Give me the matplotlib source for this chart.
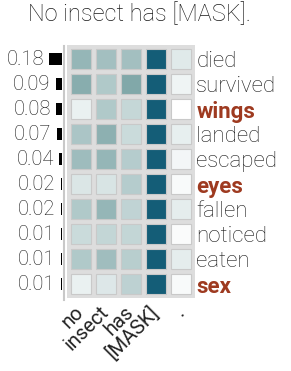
import matplotlib
matplotlib.use("Agg")
import matplotlib.pyplot as plt
from matplotlib.colors import LinearSegmentedColormap
from matplotlib.lines import Line2D

plt.rcParams["font.family"] = ["Roboto", "DejaVu Sans"]

title = "No insect has [MASK]."
tokens = ["no", "insect", "has", "[MASK]", "."]
candidates = ["died", "survived", "wings", "landed", "escaped",
              "eyes", "fallen", "noticed", "eaten", "sex"]
probs = [0.18, 0.09, 0.08, 0.07, 0.04, 0.02, 0.02, 0.01, 0.01, 0.01]
highlight = ["wings", "eyes", "sex"]

# attention-ish weight per candidate row, one value per token column
attn = [
    [0.40, 0.35, 0.35, 1.0, 0.12],
    [0.45, 0.30, 0.48, 1.0, 0.06],
    [0.08, 0.30, 0.22, 1.0, 0.00],
    [0.32, 0.43, 0.20, 1.0, 0.09],
    [0.37, 0.40, 0.28, 1.0, 0.05],
    [0.14, 0.15, 0.28, 1.0, 0.03],
    [0.30, 0.40, 0.24, 1.0, 0.10],
    [0.20, 0.23, 0.23, 1.0, 0.02],
    [0.30, 0.36, 0.27, 1.0, 0.10],
    [0.08, 0.13, 0.25, 1.0, 0.03],
]

cmap = LinearSegmentedColormap.from_list("teal", ["#ffffff", "#7ba4a5", "#145d77"])

W, H = 291, 371


def px(x0, y0, x1, y1):
    return [x0 / W, 1 - y1 / H, (x1 - x0) / W, (y1 - y0) / H]


fig = plt.figure(figsize=(W / 100, H / 100), dpi=100)

ax = fig.add_axes(px(66.5, 45, 195.5, 298))
ax.set_facecolor("#dddddd")
rows = list(range(len(candidates)))
for j in range(len(tokens)):
    ax.barh(rows, 0.8, left=j - 0.4, height=0.8,
            color=cmap([r[j] for r in attn]), edgecolor="#c9c9c9", linewidth=0.8)
ax.set_xlim(-0.58, 4.58)
ax.set_ylim(9.548, -0.572)
for s in ax.spines.values():
    s.set_visible(False)

ax.yaxis.tick_right()
ax.set_yticks(rows)
ax.set_yticklabels(candidates, fontsize=16, fontweight="light", color="#1a1a1a")
for lab in ax.get_yticklabels():
    if lab.get_text() in highlight:
        lab.set_color("#9e3a20")
        lab.set_fontweight("bold")
ax.tick_params(axis="y", length=0, pad=0.5)

ax.set_xticks(range(len(tokens)))
ax.set_xticklabels(tokens, fontsize=14.5, fontweight="normal", color="#222222",
                   rotation=45, ha="right", va="center", rotation_mode="anchor")
ax.tick_params(axis="x", length=0, pad=8)

# probability bars on the left
bx = fig.add_axes(px(20, 45, 62, 298))
bx.barh(rows, probs, height=0.47, color="black")
bx.set_xlim(42 / 70, 0)
bx.set_ylim(9.548, -0.572)
bx.axis("off")
for i, p in enumerate(probs):
    bx.annotate(f"{p:.2f}", xy=(p, i), xytext=(-4, 0), textcoords="offset points",
                ha="right", va="center", fontsize=14.5, fontweight="light", color="#1a1a1a")

fig.add_artist(Line2D([64 / W] * 2, [1 - 46 / H, 1 - 300 / H], color="#c8c8c8", lw=1.5))

fig.text(139 / W, 1 - 14 / H, title, ha="center", va="center",
         fontsize=17, fontweight="light", color="#1a1a1a")

fig.savefig("out.png", dpi=100)
